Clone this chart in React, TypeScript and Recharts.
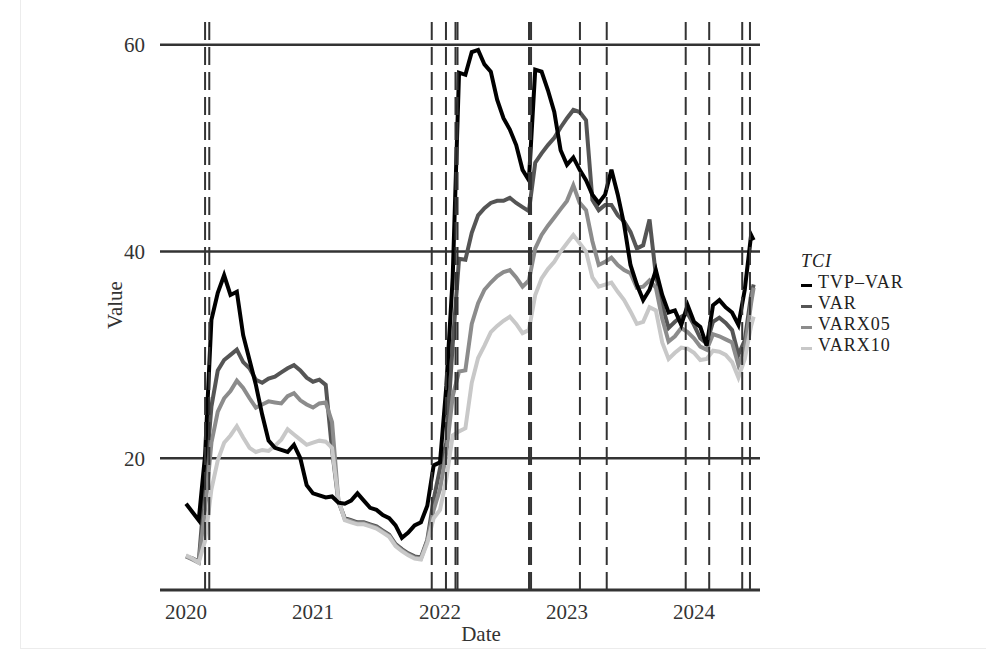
import {
  LineChart,
  Line,
  XAxis,
  YAxis,
  ReferenceLine,
} from 'recharts';

const FONT = '"Liberation Serif", "DejaVu Serif", serif';

// sample dates as decimal years (every ~0.05 yr)
const dates = [
  2020.0, 2020.05, 2020.1, 2020.15, 2020.2, 2020.25, 2020.3, 2020.35, 2020.4, 2020.45,
  2020.5, 2020.55, 2020.6, 2020.65, 2020.7, 2020.75, 2020.8, 2020.85, 2020.9, 2020.95,
  2021.0, 2021.05, 2021.1, 2021.15, 2021.2, 2021.25, 2021.3, 2021.35, 2021.4, 2021.45,
  2021.5, 2021.55, 2021.6, 2021.65, 2021.7, 2021.75, 2021.8, 2021.85, 2021.9, 2021.95,
  2022.0, 2022.05, 2022.1, 2022.15, 2022.2, 2022.25, 2022.3, 2022.35, 2022.4, 2022.45,
  2022.5, 2022.55, 2022.6, 2022.65, 2022.7, 2022.75, 2022.8, 2022.85, 2022.9, 2022.95,
  2023.0, 2023.05, 2023.1, 2023.15, 2023.2, 2023.25, 2023.3, 2023.35, 2023.4, 2023.45,
  2023.5, 2023.55, 2023.6, 2023.65, 2023.7, 2023.75, 2023.8, 2023.85, 2023.9, 2023.95,
  2024.0, 2024.05, 2024.1, 2024.15, 2024.2, 2024.25, 2024.3, 2024.35, 2024.4, 2024.45,
  2024.47,
];

const tvpVar = [
  15.6, 14.8, 14.0, 20.3, 33.4, 36.0, 37.7, 35.8, 36.1, 31.9,
  29.5, 27.1, 24.2, 21.7, 21.0, 20.8, 20.6, 21.3, 20.0, 17.4,
  16.6, 16.4, 16.2, 16.3, 15.7, 15.6, 15.9, 16.6, 15.9, 15.2,
  15.0, 14.5, 14.2, 13.5, 12.3, 12.8, 13.5, 13.8, 15.4, 19.3,
  19.6, 27.0, 37.5, 57.3, 57.1, 59.3, 59.5, 58.1, 57.4, 54.7,
  52.9, 51.8, 50.3, 47.9, 46.9, 57.6, 57.4, 55.6, 53.5, 49.8,
  48.4, 49.1, 47.9, 46.9, 45.5, 44.7, 45.5, 47.9, 45.5, 42.6,
  38.7, 36.8, 35.3, 36.3, 38.2, 35.8, 34.1, 34.3, 32.9, 34.8,
  33.2, 32.7, 30.9, 34.8, 35.3, 34.6, 34.1, 32.9, 36.3, 41.6,
  41.1,
];

const varValues = [
  10.5, 10.3, 10.0, 17.5, 25.0, 28.5, 29.5, 30.0, 30.5, 29.3,
  28.7, 27.6, 27.3, 27.7, 27.9, 28.3, 28.7, 29.0, 28.5, 27.8,
  27.4, 27.6, 27.1, 20.8, 15.8, 14.2, 14.0, 13.8, 13.8, 13.6,
  13.4, 13.0, 12.6, 11.7, 11.2, 10.8, 10.5, 10.4, 12.1, 16.0,
  19.0, 21.5, 31.0, 39.3, 39.2, 41.8, 43.5, 44.2, 44.7, 44.9,
  44.9, 45.2, 44.7, 44.3, 43.9, 48.6, 49.5, 50.3, 51.0, 52.0,
  52.9, 53.7, 53.5, 52.7, 45.0, 44.0, 44.5, 44.5, 43.5, 42.9,
  41.9, 40.3, 40.6, 43.1, 37.7, 34.8, 32.6, 33.2, 33.7, 34.0,
  32.9, 31.6, 31.1, 33.2, 33.6, 33.1, 32.4, 30.0, 31.4, 35.8,
  36.8,
];

const varx05 = [
  10.5, 10.2, 9.9, 15.0, 21.5, 24.5, 25.8, 26.5, 27.5, 26.8,
  25.8, 24.9, 25.2, 25.5, 25.4, 25.3, 26.0, 26.3, 25.6, 25.2,
  24.9, 25.3, 25.4, 23.5, 15.9, 14.1, 13.9, 13.7, 13.7, 13.5,
  13.3, 12.9, 12.5, 11.6, 11.1, 10.7, 10.4, 10.3, 12.0, 15.0,
  17.0, 20.5, 26.0, 28.4, 28.5, 33.0, 35.0, 36.3, 37.0, 37.6,
  38.0, 38.2, 37.5, 36.6, 37.2, 40.3, 41.6, 42.5, 43.3, 44.1,
  44.9, 46.4, 44.7, 44.0, 41.0, 38.7, 39.0, 39.4, 38.7, 38.2,
  37.9, 36.5, 36.6, 37.2, 36.5, 33.5, 31.3, 31.8, 32.6, 32.2,
  31.6, 30.8, 30.5, 32.0, 31.8, 31.5, 31.2, 29.0, 30.5, 35.0,
  36.5,
];

const varx10 = [
  10.6, 10.3, 9.9, 12.0, 17.0, 19.8, 21.5, 22.2, 23.1, 22.0,
  21.0, 20.6, 20.8, 20.7, 21.2, 21.8, 22.8, 22.3, 21.8, 21.3,
  21.5, 21.7, 21.6, 21.0, 16.0, 14.0, 13.8, 13.6, 13.6, 13.4,
  13.2, 12.8, 12.4, 11.5, 11.0, 10.6, 10.3, 10.2, 11.8, 14.2,
  15.0, 18.0, 22.2, 22.6, 22.9, 27.3, 29.7, 30.9, 32.2, 32.8,
  33.3, 33.7, 33.0, 32.1, 32.4, 35.8, 37.4, 38.3, 39.0, 40.0,
  40.8, 41.6, 40.8, 40.0, 37.5, 36.6, 36.8, 37.0, 36.1, 35.3,
  34.2, 33.0, 33.2, 34.6, 34.3, 31.2, 29.6, 30.2, 30.7, 30.6,
  30.2, 29.5, 29.6, 30.4, 30.3, 30.0, 29.3, 27.8, 29.6, 32.8,
  33.7,
];

// event dates marked with dashed vertical lines
const eventDates = [
  2020.15, 2020.183, 2021.935, 2022.047, 2022.122, 2022.138, 2022.701, 2022.717,
  2023.102, 2023.313, 2023.935, 2024.12, 2024.38, 2024.441,
];

const yearTicks = [2020, 2021, 2022, 2023, 2024];
const valueTicks = [20, 40, 60];

const seriesKeys = ['tvp', 'var', 'varx05', 'varx10'];
const seriesNames = ['TVP\u2013VAR', 'VAR', 'VARX05', 'VARX10'];
const seriesColors = ['#000000', '#555555', '#8c8c8c', '#c8c8c8'];

const chartData = dates.map((d, i) => ({
  date: d,
  tvp: tvpVar[i],
  var: varValues[i],
  varx05: varx05[i],
  varx10: varx10[i],
}));

// draw order: greys first, light grey over the darker greys, black on top
const drawOrder = [1, 2, 3, 0];

function LegendBox() {
  return (
    <div
      style={{
        position: 'absolute',
        left: 801,
        top: 251,
        fontFamily: FONT,
        color: '#222',
        fontSize: 18,
        lineHeight: '21px',
        letterSpacing: 1,
      }}
    >
      <div style={{ fontStyle: 'italic', height: 21 }}>TCI</div>
      {seriesNames.map((n, i) => (
        <div key={n} style={{ display: 'flex', alignItems: 'center', height: 21 }}>
          <span
            style={{
              display: 'inline-block',
              width: 11,
              height: 3,
              marginTop: 5,
              marginRight: 6,
              background: seriesColors[i],
            }}
          />
          {n}
        </div>
      ))}
    </div>
  );
}

export default function App() {
  return (
    <div style={{ position: 'absolute', left: 0, top: 0, width: 1005, height: 658, background: '#fff' }}>
      {/* faint frame seen at the left and bottom of the reference */}
      <div
        style={{
          position: 'absolute',
          left: 20,
          top: 0,
          width: 965,
          height: 648,
          borderLeft: '1px solid #ececec',
          borderBottom: '1px solid #ececec',
        }}
      />
      <LineChart
        width={1005}
        height={658}
        data={chartData}
        margin={{ top: 20, right: 245, bottom: 8, left: 70 }}
        style={{ fontFamily: FONT, position: 'absolute', left: 0, top: 0 }}
      >
        <XAxis
          dataKey="date"
          type="number"
          domain={[2019.795, 2024.52]}
          ticks={yearTicks}
          allowDataOverflow
          height={60}
          tickLine={false}
          tickMargin={8}
          axisLine={{ stroke: '#333', strokeWidth: 3 }}
          tick={{ fontSize: 21, fill: '#333', fontFamily: FONT }}
          label={{ value: 'Date', position: 'insideBottom', offset: 9, dx: 21, fontSize: 21, fill: '#333', fontFamily: FONT }}
        />
        <YAxis
          type="number"
          domain={[7.25, 62.4]}
          ticks={valueTicks}
          allowDataOverflow
          width={90}
          axisLine={false}
          tickLine={false}
          tickSize={6}
          tickMargin={9}
          tick={{ fontSize: 21, fill: '#333', fontFamily: FONT }}
          label={{ value: 'Value', angle: -90, position: 'center', fontSize: 21, fill: '#333', fontFamily: FONT }}
        />
        {valueTicks.map((v) => (
          <ReferenceLine key={'h' + v} y={v} stroke="#333" strokeWidth={2.5} />
        ))}
        {drawOrder.map((i) => (
          <Line
            key={seriesKeys[i]}
            type="linear"
            dataKey={seriesKeys[i]}
            name={seriesNames[i]}
            stroke={seriesColors[i]}
            strokeWidth={4}
            dot={false}
            isAnimationActive={false}
          />
        ))}
        {eventDates.map((d) => (
          <ReferenceLine key={d} x={d} stroke="#333" strokeWidth={2} strokeDasharray="18 7" />
        ))}
      </LineChart>
      <LegendBox />
    </div>
  );
}
